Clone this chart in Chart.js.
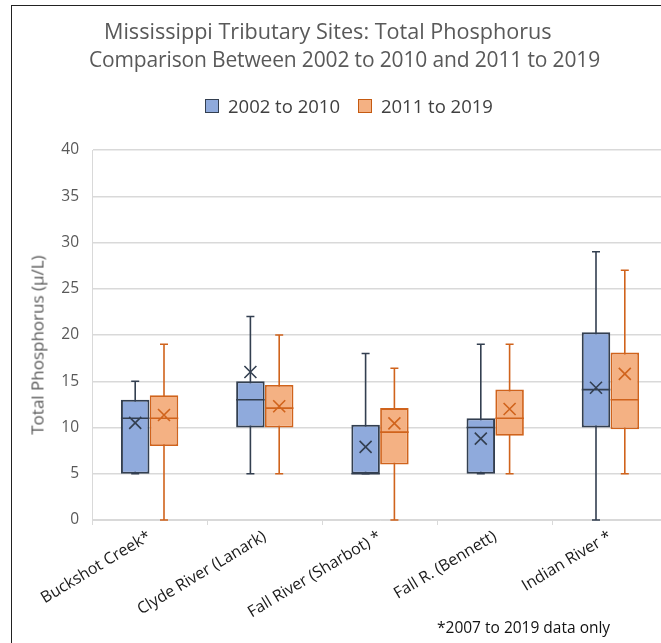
<!DOCTYPE html>
<html>
<head>
<meta charset="utf-8">
<script src="https://cdn.jsdelivr.net/npm/chart.js@4.4.1/dist/chart.umd.min.js"></script>
<style>
  html, body { margin: 0; padding: 0; background: #fff; overflow: hidden; }
  #wrap { position: relative; width: 661px; height: 643px; overflow: hidden; }
  #frame { position: absolute; left: 11px; top: 5px; width: 700px; height: 700px; border: 1.5px solid #222; box-sizing: border-box; }
  #chart-box { position: absolute; left: 0; top: 0; width: 680px; height: 643px; }
  .title { position: absolute; font-family: "Open Sans", sans-serif; color: #595959; white-space: nowrap; }
  #legend { position: absolute; top: 93px; left: 205px; font-family: "Open Sans", sans-serif; font-size: 18.5px; color: #404040; display: flex; align-items: center; }
  .sw { display: inline-block; width: 12px; height: 12px; margin-right: 9px; }
  #ytitle { position: absolute; left: 37px; top: 345px; transform: translate(-50%, -50%) rotate(-90deg); font-family: "Open Sans", sans-serif; font-size: 17px; color: #595959; white-space: nowrap; }
  #note { position: absolute; left: 437px; top: 616px; font-family: "Open Sans", sans-serif; font-size: 15.5px; color: #111; }
</style>
</head>
<body>
<div id="wrap">
  <div id="frame"></div>
  <div id="chart-box"><canvas id="chart" width="680" height="643"></canvas></div>
  <div class="title" style="left:104px; top:16px; font-size:21.6px;">Mississippi Tributary Sites: Total Phosphorus</div>
  <div class="title" style="left:89px; top:45px; font-size:21px; letter-spacing:-0.15px;">Comparison Between 2002 to 2010 and 2011 to 2019</div>
  <div id="legend">
    <span class="sw" style="background:#8faadc; border:1px solid #333f50;"></span><span style="margin-right:18px;">2002 to 2010</span>
    <span class="sw" style="background:#f4b183; border:1px solid #c55a11;"></span><span>2011 to 2019</span>
  </div>
  <div id="ytitle">Total Phosphorus (µ/L)</div>
  <div id="note">*2007 to 2019 data only</div>
</div>
<script>
const sites = ['Buckshot Creek*', 'Clyde River (Lanark)', 'Fall River (Sharbot) *', 'Fall R. (Bennett)', 'Indian River *'];
const yTicks = [0, 5, 10, 15, 20, 25, 30, 35, 40];

// 2002 to 2010
const earlyMin = [5, 5, 5, 5, 0];
const earlyQ1 = [5, 10, 5, 5, 10];
const earlyMedian = [11, 13, 5, 10, 14.1];
const earlyQ3 = [13, 15, 10.3, 11, 20.3];
const earlyMax = [15, 22, 18, 19, 29];
const earlyMean = [10.5, 16, 7.9, 8.8, 14.3];

// 2011 to 2019
const lateMin = [0, 5, 0, 5, 5];
const lateQ1 = [8, 10, 6, 9.1, 9.8];
const lateMedian = [11, 12.1, 9.5, 11, 13];
const lateQ3 = [13.5, 14.6, 12.1, 14.1, 18.1];
const lateMax = [19, 20, 16.4, 19, 27];
const lateMean = [11.35, 12.3, 10.45, 12, 15.8];

const series = [
  { min: earlyMin, med: earlyMedian, max: earlyMax, mean: earlyMean, line: '#333f50' },
  { min: lateMin, med: lateMedian, max: lateMax, mean: lateMean, line: '#d0631c' }
];

// whiskers behind the boxes, median and mean marker on top
const boxPlot = {
  id: 'boxPlot',
  beforeDatasetsDraw(chart) {
    const ctx = chart.ctx, y = chart.scales.y;
    series.forEach((s, di) => {
      chart.getDatasetMeta(di).data.forEach((bar, i) => {
        ctx.save();
        ctx.strokeStyle = s.line;
        ctx.lineWidth = 1.6;
        ctx.beginPath();
        ctx.moveTo(bar.x, y.getPixelForValue(s.min[i]));
        ctx.lineTo(bar.x, y.getPixelForValue(s.max[i]));
        [s.min[i], s.max[i]].forEach(v => {
          ctx.moveTo(bar.x - 4, y.getPixelForValue(v));
          ctx.lineTo(bar.x + 4, y.getPixelForValue(v));
        });
        ctx.stroke();
        ctx.restore();
      });
    });
  },
  afterDatasetsDraw(chart) {
    const ctx = chart.ctx, y = chart.scales.y;
    series.forEach((s, di) => {
      chart.getDatasetMeta(di).data.forEach((bar, i) => {
        const half = bar.width / 2;
        ctx.save();
        ctx.strokeStyle = s.line;
        ctx.lineWidth = 1.6;
        ctx.beginPath();
        const my = y.getPixelForValue(s.med[i]);
        ctx.moveTo(bar.x - half, my);
        ctx.lineTo(bar.x + half, my);
        const cy = y.getPixelForValue(s.mean[i]);
        ctx.moveTo(bar.x - 6, cy - 6);
        ctx.lineTo(bar.x + 6, cy + 6);
        ctx.moveTo(bar.x + 6, cy - 6);
        ctx.lineTo(bar.x - 6, cy + 6);
        ctx.stroke();
        ctx.restore();
      });
    });
  }
};

new Chart(document.getElementById('chart'), {
  type: 'bar',
  data: {
    labels: sites,
    datasets: [
      {
        label: '2002 to 2010',
        data: earlyQ1.map((q, i) => [q, earlyQ3[i]]),
        backgroundColor: '#8faadc',
        borderColor: '#333f50',
        borderWidth: 2,
        borderSkipped: false
      },
      {
        label: '2011 to 2019',
        data: lateQ1.map((q, i) => [q, lateQ3[i]]),
        backgroundColor: '#f4b183',
        borderColor: '#d0631c',
        borderWidth: 1.8,
        borderSkipped: false
      }
    ]
  },
  options: {
    responsive: false,
    animation: false,
    categoryPercentage: 0.5,
    barPercentage: 0.99,
    layout: { padding: { top: 150, right: 12, left: 0, bottom: 0 } },
    plugins: { legend: { display: false }, title: { display: false }, tooltip: { enabled: false } },
    scales: {
      x: {
        afterFit: scale => { scale.height = 123; },
        grid: { drawOnChartArea: false, drawTicks: true, tickLength: 5, color: '#d9d9d9', offset: true },
        border: { color: '#d9d9d9' },
        ticks: {
          minRotation: 31, maxRotation: 31, autoSkip: false, padding: 2,
          color: '#1a1a1a',
          font: { family: 'Open Sans', size: 16 }
        }
      },
      y: {
        min: 0, max: 40,
        afterFit: scale => { scale.width = 92; },
        afterBuildTicks: scale => { scale.ticks = yTicks.map(v => ({ value: v })); },
        grid: { color: '#d9d9d9', lineWidth: 1.5, drawTicks: false },
        border: { color: '#d9d9d9' },
        ticks: { padding: 13, color: '#595959', font: { family: 'Open Sans', size: 15.5 } }
      }
    }
  },
  plugins: [boxPlot]
});
</script>
</body>
</html>
